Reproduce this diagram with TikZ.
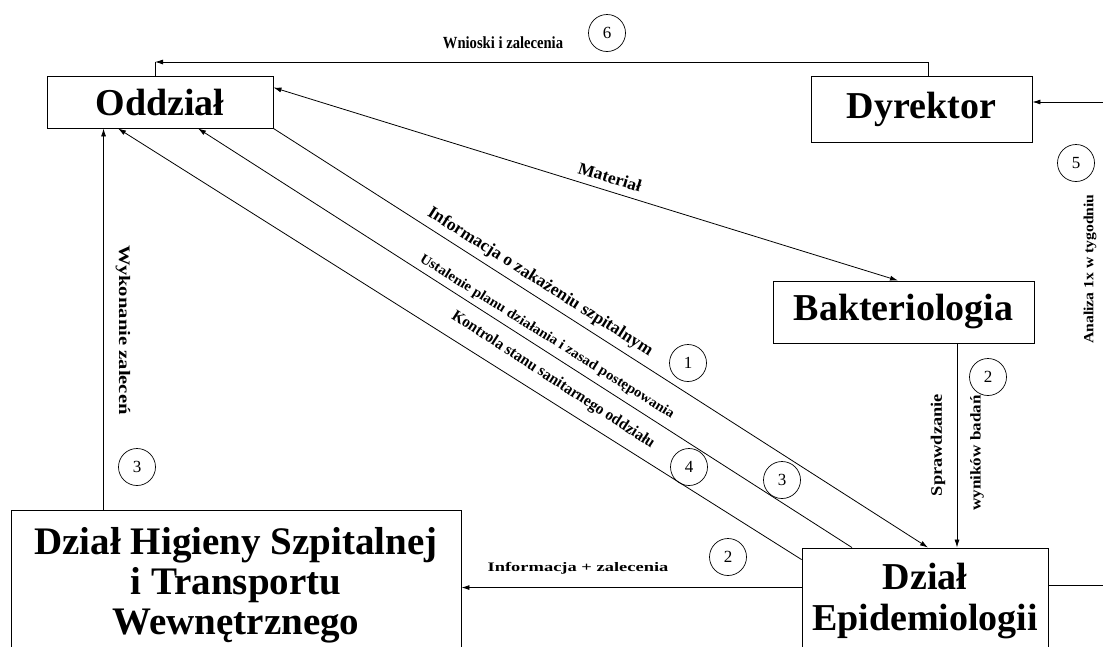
\documentclass[tikz,border=0pt]{standalone}
\usepackage{fontspec}
\setmainfont{Liberation Serif}
\usetikzlibrary{arrows.meta,calc}
\newcommand{\sxl}[2]{\scalebox{#1}[1]{#2}}
\newcommand{\fs}[1]{\fontsize{#1}{#1}\selectfont\bfseries}
\begin{document}
\begin{tikzpicture}[x=1pt,y=-1pt,
  box/.style={draw,line width=0.9pt,inner sep=0pt},
  big/.style={font=\fontsize{38}{42}\selectfont\bfseries,align=center,inner sep=0pt},
  lab/.style={font=\fs{14},inner sep=0pt},
  num/.style={draw,circle,minimum size=37pt,inner sep=0pt,font=\fontsize{17}{19}\selectfont,line width=0.7pt},
  arr/.style={line width=0.8pt,-{Latex[length=8pt,width=5pt]}},
  darr/.style={line width=0.8pt,{Latex[length=8pt,width=5pt]}-{Latex[length=8pt,width=5pt]}},
  ln/.style={line width=0.8pt}]
\useasboundingbox (0,0) rectangle (1103,646);
\fill[white] (0,0) rectangle (1103,646);
\clip (0,0) rectangle (1103,646);
% boxes
\node[box,big,minimum width=226pt,minimum height=52pt] (odd) at (160,102) {Oddział};
\node[box,big,minimum width=221pt,minimum height=66pt] (dyr) at (921.5,109) {Dyrektor};
\node[box,big,minimum width=261pt,minimum height=62pt] (bak) at (903.5,312) {Bakteriologia};
\node[box,minimum width=246pt,minimum height=152pt] (epi) at (925,624) {};
\node[big] (epit) at (925,601) {Dział\\Epidemiologii};
\node[box,minimum width=450pt,minimum height=190pt] (hig) at (236,605) {};
\node[big,font=\fontsize{39}{40}\selectfont\bfseries] (higt) at (236,585) {Dział Higieny Szpitalnej\\i Transportu\\Wewnętrznego};
% free ends
\coordinate (c6) at (155,62);
\coordinate (rin) at (1103,102);
\coordinate (rout) at (1103,585);
% connectors
\draw[arr] ($(dyr.north)+(6.5,0)$) |- (c6);
\draw[ln] (c6) -- (c6 |- odd.north);
\draw[arr] (rin) -- (rin -| dyr.east);
\draw[ln] (rout -| epi.east) -- (rout);
\draw[darr] ($(odd.north east)+(0,12)$) -- ($(bak.north)+(-5.5,0)$);
\draw[arr] (odd.south east) -- ($(epi.north)+(3,0)$);
\draw[arr] ($(epi.north)+(-73,0)$) -- ($(odd.south)+(38,0)$);
\draw[arr] ($(epi.north west)+(0,12)$) -- ($(odd.south)+(-42,0)$);
\draw[arr] ($(hig.north west)+(93,0)$) coordinate (wk) -- (wk |- odd.south);
\draw[arr] ($(bak.south)+(53.5,0)$) coordinate (sp) -- (sp |- epi.north);
\draw[arr] ($(epi.north west)+(0,40)$) coordinate (iz) -- (iz -| hig.east);
% labels
\node[lab,font=\fs{17}] (lwn) at (503,43) {\sxl{0.86}{Wnioski i zalecenia}};
\node[num] (n6) at (607,33) {6};
\node[lab,font=\fs{17}] (lmat) [rotate=-17] at (610,177) {\sxl{1.03}{Materiał}};
\node[lab,font=\fs{14}] (lan) [rotate=90] at (1090,269) {\sxl{1.12}{Analiza 1x w tygodniu}};
\node[num] (n5) at (1076,163) {5};
\node[lab,font=\fs{16}] (lsp) [rotate=90] at (938,445) {\sxl{1.15}{Sprawdzanie}};
\node[lab,font=\fs{15}] (lwy) [rotate=90] at (977,453) {\sxl{1.14}{wyników badań}};
\node[num] (n2a) at (988,377) {2};
\node[lab,font=\fs{13}] (liz) at (578,568) {\sxl{1.42}{Informacja + zalecenia}};
\node[num] (n2b) at (728,557) {2};
\node[lab,font=\fs{17.5}] (linf) [rotate=-32.3] at (540,282) {Informacja o zakażeniu szpitalnym};
\node[num] (n1) at (688,363) {1};
\node[lab,font=\fs{14}] (lus) [rotate=-32] at (547,337) {\sxl{1.06}{Ustalenie planu działania i zasad postępowania}};
\node[num] (n3a) at (782,480) {3};
\node[lab,font=\fs{16}] (lko) [rotate=-33] at (553,380) {\sxl{0.955}{Kontrola stanu sanitarnego oddziału}};
\node[num] (n4) at (689,467) {4};
\node[lab,font=\fs{16}] (lwk) [rotate=-90] at (123,330) {\sxl{1.29}{Wykonanie zaleceń}};
\node[num] (n3b) at (137,467) {3};
\end{tikzpicture}
\end{document}
